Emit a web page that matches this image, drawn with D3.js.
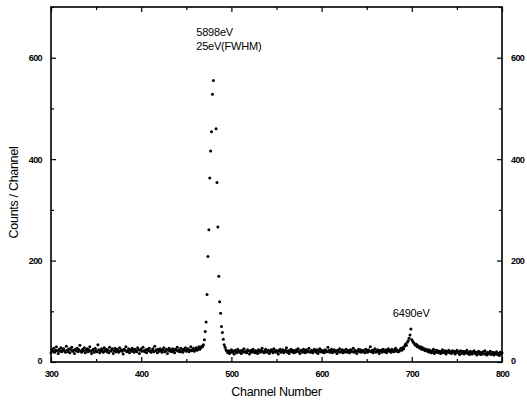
<!DOCTYPE html>
<html>
<head>
<meta charset="utf-8">
<script src="https://cdn.jsdelivr.net/npm/d3@7"></script>
<style>
  body { margin: 0; background: #fff; }
  .tick text { font-family: "Liberation Sans", Arial, sans-serif; font-size: 9px; font-weight: bold; letter-spacing: -0.6px; fill: #000; }
  .tick line { stroke: #000; stroke-width: 1.2; }
  .title { font-family: "Liberation Sans", Arial, sans-serif; font-size: 12.5px; fill: #000; letter-spacing: -0.3px; }
  .note { font-family: "Liberation Sans", Arial, sans-serif; font-size: 11px; fill: #000; letter-spacing: -0.2px; }
</style>
</head>
<body>
<div class="vis-spectrum"></div>
<script>
// background left of the 5898 eV line, channels 300..467
const bgLeftStart = 300;
const bgLeft = [
  18,24,21,27,19,23,30,22,17,25,21,28,20,24,26,
  22,19,31,23,20,26,18,24,29,21,23,17,25,22,27,
  20,24,33,21,19,25,22,28,18,23,26,20,24,30,21,
  17,23,25,19,27,22,20,34,24,18,21,26,23,19,28,
  22,25,20,24,18,29,21,23,26,17,22,27,20,25,23,
  19,28,22,24,21,16,25,23,30,20,22,26,18,24,21,
  27,23,19,25,22,20,28,24,17,23,26,21,29,22,20,
  24,18,25,22,27,21,19,23,26,20,31,22,24,18,25,
  21,26,23,19,24,28,20,22,25,17,23,27,21,24,20,
  26,22,18,25,23,29,21,24,20,27,22,19,25,23,28,
  21,24,26,20,23,30,22,25,27,21,24,28,23,26,30,
  25,28,31
];

// Mn K-alpha peak
const peak1Channels = [468,469,470,471,472,473,474,475,476,477,478,479,480,
                       483,484,485,486,487,488,489,490,491,492,493,494,495];
const peak1Counts   = [30,34,44,60,79,133,208,261,363,416,454,528,555,
                       460,354,266,169,119,96,70,58,45,34,29,24,21];

// background between the lines, channels 496..685
const bgMidStart = 496;
const bgMid = [
  18,22,17,20,24,19,21,16,23,20,18,25,21,19,22,
  17,23,20,26,19,21,18,24,22,16,20,23,19,25,21,
  18,22,20,17,24,21,19,23,27,20,18,22,25,19,21,
  23,17,20,24,22,18,26,21,19,23,20,16,22,25,19,
  21,24,18,20,23,28,19,22,17,21,25,20,23,18,22,
  19,24,21,26,20,17,23,22,19,25,21,18,24,20,22,
  27,19,21,23,18,20,25,22,19,24,17,21,26,20,23,
  19,22,18,24,21,20,29,23,19,22,25,18,21,24,20,
  22,17,23,20,26,19,21,24,18,22,20,25,19,23,21,
  18,24,22,20,27,19,23,21,17,22,25,20,24,19,21,
  23,20,18,25,22,19,24,21,30,20,23,18,22,26,19,
  21,24,20,17,23,22,19,25,21,20,24,18,22,26,21,
  23,19,25,22,20,24,27,21,23,20
];

// Mn K-beta peak, channels 686..716
const peak2Start = 686;
const peak2 = [21,24,27,23,28,26,31,35,33,39,42,47,53,65,44,41,38,36,33,35,
               30,32,29,27,30,25,28,24,26,22,25];

// background right, channels 717..800
const bgRightStart = 717;
const bgRight = [
  23,20,24,19,22,18,21,25,17,20,23,19,22,18,21,
  17,20,24,18,19,22,16,21,19,23,18,20,17,22,19,
  21,16,19,23,18,20,15,22,17,19,21,16,20,18,23,
  17,19,15,21,18,16,20,22,17,19,14,18,21,16,19,
  15,18,20,16,22,17,14,19,16,18,21,15,17,19,14,
  18,16,20,15,17,13,19,16,18
];

const xMajor = [300, 400, 500, 600, 700, 800];
const xMinor = [350, 450, 550, 650, 750];
const yMajor = [0, 200, 400, 600];
const yMinor = [100, 300, 500, 700];

const annotations = [
  { channel: 461, count: 642, lines: ["5898eV", "25eV(FWHM)"] },
  { channel: 679, count: 89, lines: ["6490eV"] }
];

let data = [];
bgLeft.forEach((c, i) => data.push({ ch: bgLeftStart + i, n: c }));
peak1Channels.forEach((ch, i) => data.push({ ch: ch, n: peak1Counts[i] }));
bgMid.forEach((c, i) => data.push({ ch: bgMidStart + i, n: c }));
peak2.forEach((c, i) => data.push({ ch: peak2Start + i, n: c }));
bgRight.forEach((c, i) => data.push({ ch: bgRightStart + i, n: c }));

const W = 527, H = 400;
const margin = { top: 7, right: 25, bottom: 38, left: 51 };
const width = W - margin.left - margin.right;
const height = H - margin.top - margin.bottom;

const svg = d3.select('.vis-spectrum')
  .append('svg')
  .attr('width', W)
  .attr('height', H)
  .append('g')
  .attr('transform', 'translate(' + margin.left + ',' + margin.top + ')');

const xScale = d3.scaleLinear().domain([300, 800]).range([0, width]);
const yScale = d3.scaleLinear().domain([0, 700]).range([height, 0]);

// ticks point inward on all four sides
function addAxis(axisFn, scale, values, size, label, transform) {
  const g = svg.append('g')
    .attr('transform', transform || null)
    .call(axisFn(scale).tickValues(values).tickSize(size).tickPadding(label ? 9 : 0)
      .tickFormat(label ? d3.format('d') : ''));
  g.select('.domain').remove();
  return g;
}

addAxis(d3.axisBottom, xScale, xMajor, -5, true, 'translate(0,' + height + ')');
addAxis(d3.axisBottom, xScale, xMinor, -3, false, 'translate(0,' + height + ')');
addAxis(d3.axisTop, xScale, xMajor, -5, false);
addAxis(d3.axisTop, xScale, xMinor, -3, false);
addAxis(d3.axisLeft, yScale, yMajor, -5, true);
addAxis(d3.axisLeft, yScale, yMinor, -3, false);
addAxis(d3.axisRight, yScale, yMajor, -5, true, 'translate(' + width + ',0)');
addAxis(d3.axisRight, yScale, yMinor, -3, false, 'translate(' + width + ',0)');

// the 0 labels sit beside the corners, a little lower
svg.selectAll('.tick text').filter(d => d === 0).attr('dy', '0.2em');

svg.append('rect')
  .attr('width', width)
  .attr('height', height)
  .attr('fill', 'none')
  .attr('stroke', '#000')
  .attr('stroke-width', 1.6);

// data points
svg.selectAll('.dot')
  .data(data)
  .enter()
  .append('circle')
  .attr('class', 'dot')
  .attr('cx', d => xScale(d.ch))
  .attr('cy', d => yScale(d.n))
  .attr('r', 1.5)
  .attr('fill', '#000');

// peak labels
annotations.forEach(a => {
  const t = svg.append('text')
    .attr('class', 'note')
    .attr('x', xScale(a.channel))
    .attr('y', yScale(a.count));
  a.lines.forEach((s, i) => {
    t.append('tspan')
      .attr('x', xScale(a.channel))
      .attr('dy', i === 0 ? 0 : 14)
      .text(s);
  });
});

// axis titles
svg.append('text')
  .attr('class', 'title')
  .attr('x', width / 2)
  .attr('y', height + 34)
  .attr('text-anchor', 'middle')
  .text('Channel Number');

svg.append('text')
  .attr('class', 'title')
  .attr('transform', 'translate(' + (-33) + ',' + (height / 2 + 8) + ') rotate(-90)')
  .attr('text-anchor', 'middle')
  .text('Counts / Channel');
</script>
</body>
</html>
